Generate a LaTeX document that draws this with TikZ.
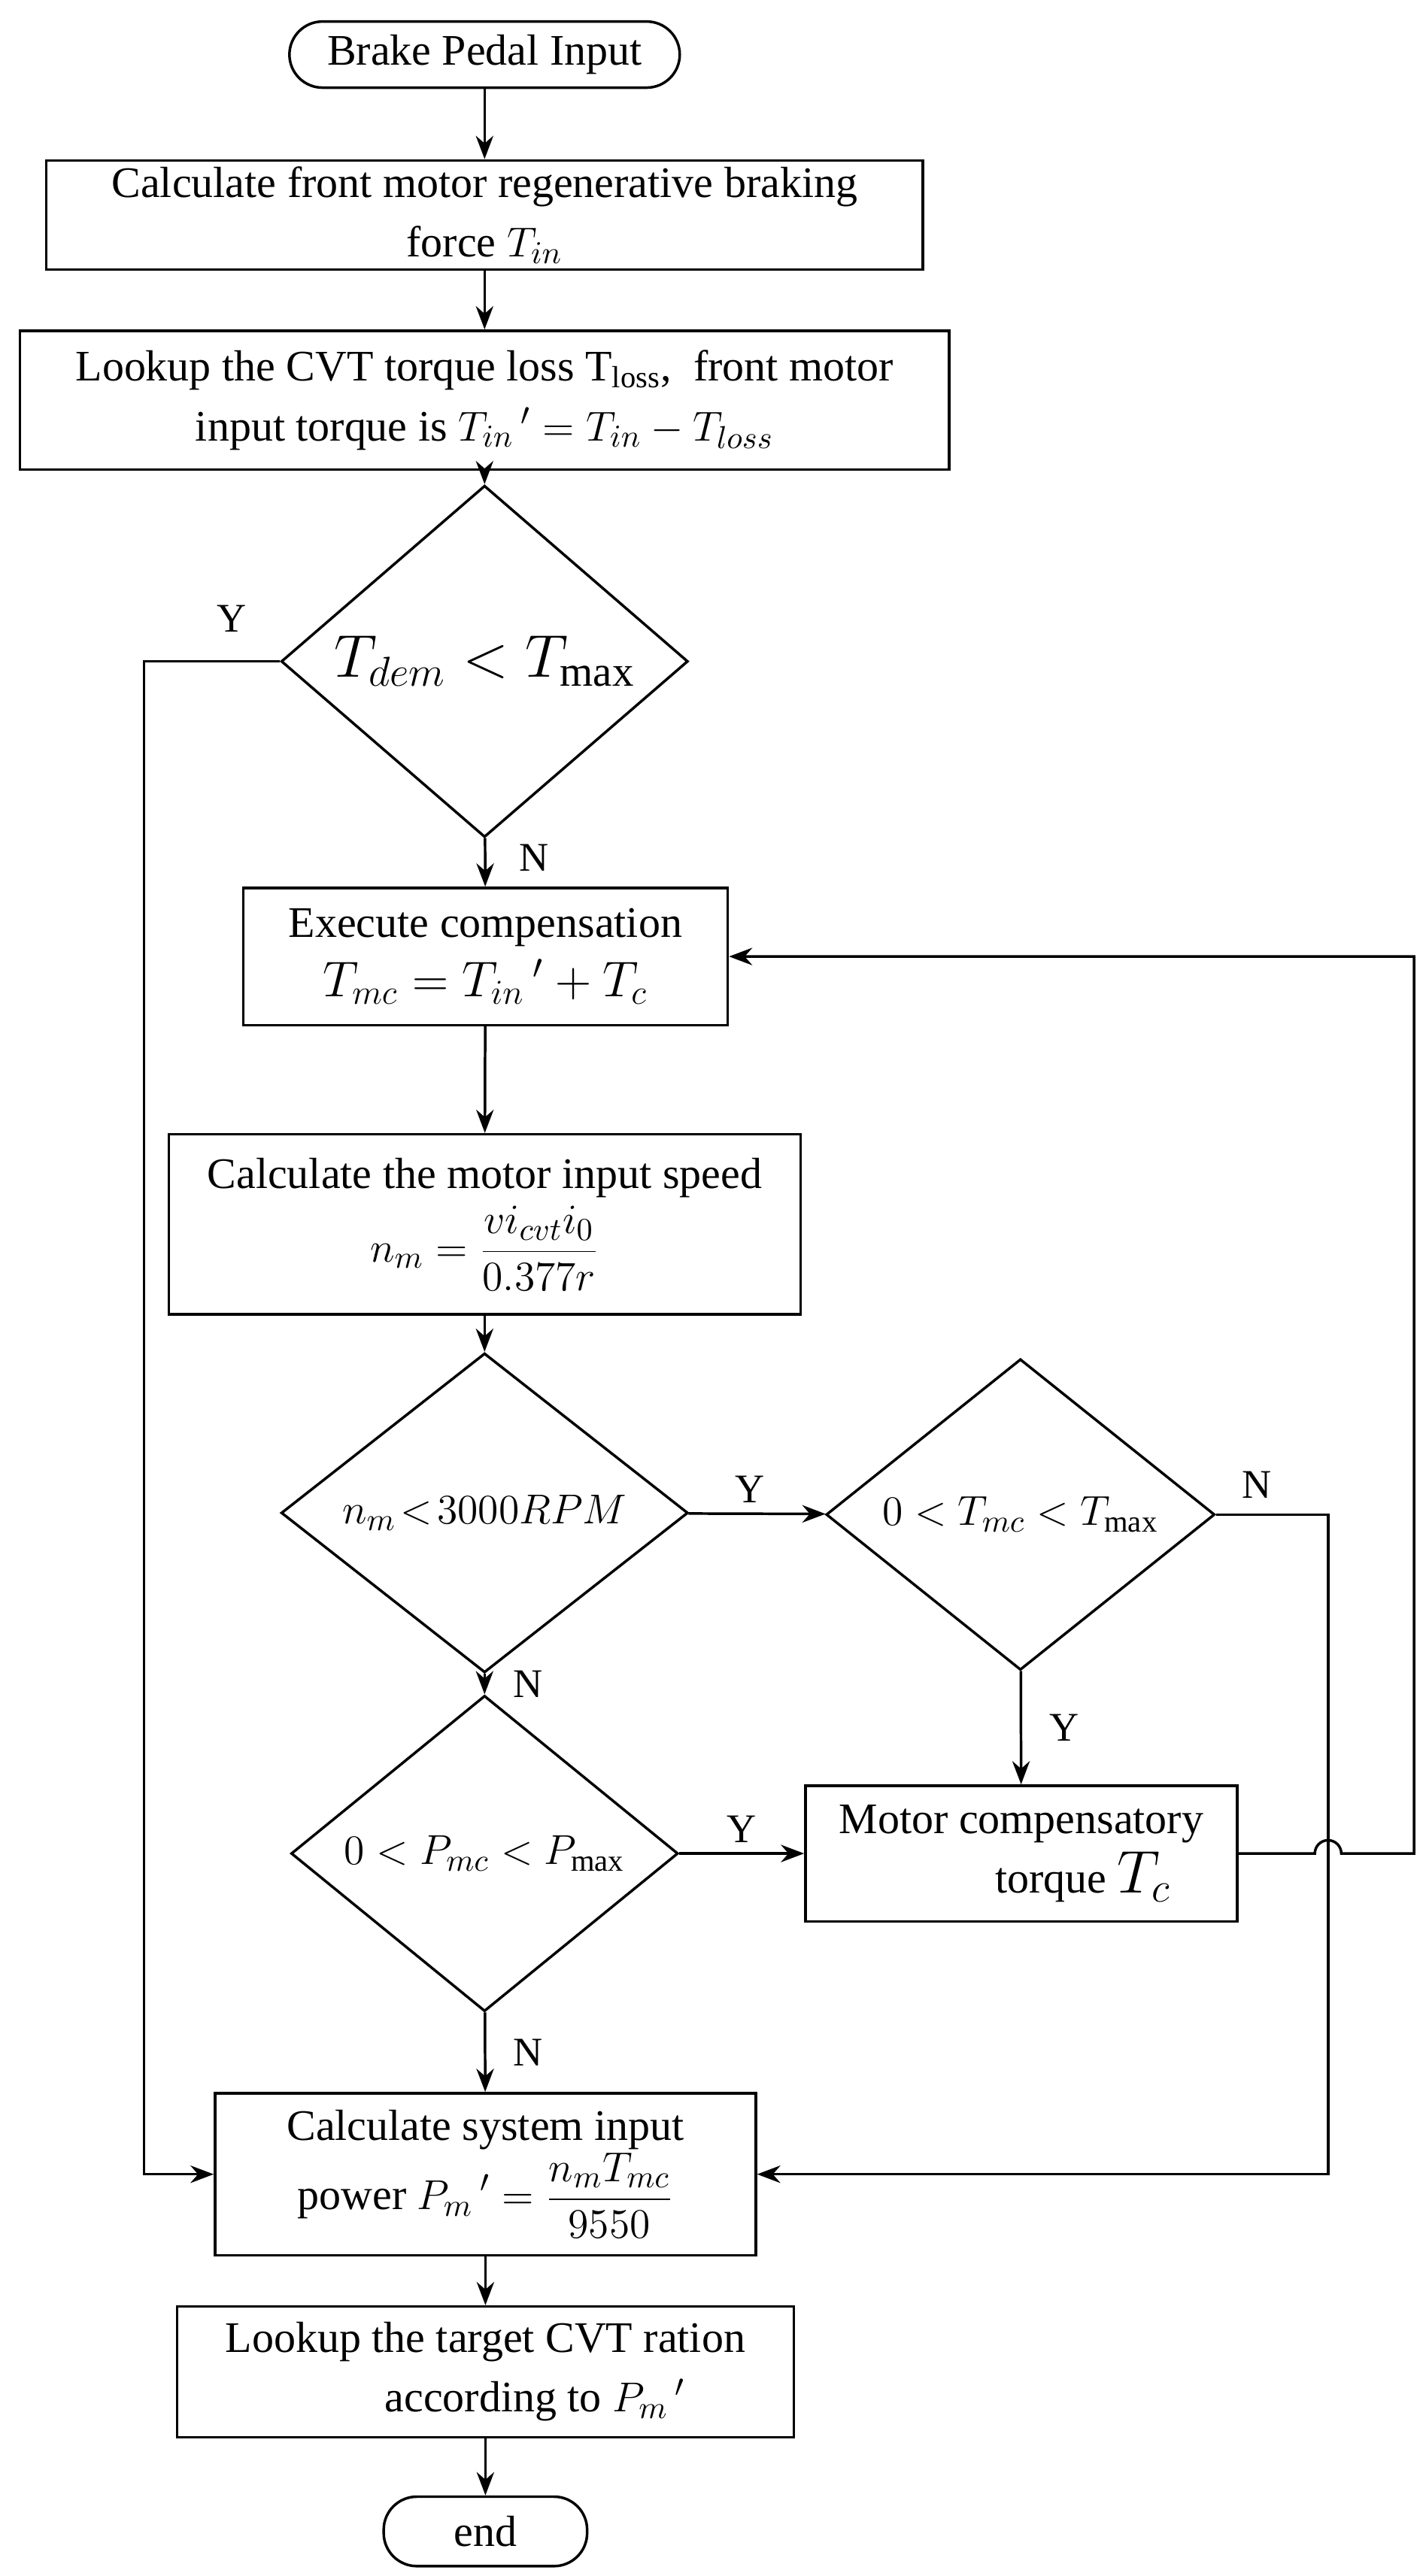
\documentclass[tikz,border=0pt]{standalone}
\usepackage{fontspec}
\setmainfont{Liberation Serif}
\usetikzlibrary{shapes.geometric,arrows.meta}
\begin{document}
\begin{tikzpicture}[
  line width=0.9pt,
  every node/.style={font=\fontsize{15}{20.5}\selectfont},
  box/.style={draw,rectangle,align=center,inner sep=2pt},
  dia/.style={draw,diamond,inner sep=0pt},
  term/.style={draw,rounded corners=0.4cm,align=center},
  arr/.style={-{Stealth[length=8pt,width=6pt]}},
  lab/.style={font=\fontsize{14}{16}\selectfont}
]
\useasboundingbox (0,0) rectangle (17.24,-31.16);
\node[term,minimum width=4.72cm,minimum height=0.8cm] (start) at (5.86,-0.66) {Brake Pedal Input};
\node[box,minimum width=10.6cm,minimum height=1.32cm] (b1) at (5.86,-2.6) {Calculate front motor regenerative braking\\force $T_{in}$};
\node[box,minimum width=11.24cm,minimum height=1.68cm] (b2) at (5.86,-4.84) {Lookup the CVT torque loss T\textsubscript{loss},\enspace front motor\\input torque is $T_{in}\,'=T_{in}-T_{loss}$};
\node[dia,minimum width=4.92cm,minimum height=2.8cm] (d1) at (5.86,-8.0) {\fontsize{21}{24}\selectfont $T_{dem}<T_{\max}$};
\node[box,minimum width=5.86cm,minimum height=1.66cm] (b3) at (5.87,-11.57) {Execute compensation\\{\fontsize{18}{22}\selectfont $T_{mc}=T_{in}\,'+T_c$}};
\node[box,minimum width=7.64cm,minimum height=2.18cm] (b4) at (5.86,-14.81) {Calculate the motor input speed\\[2pt]$\displaystyle n_m=\frac{v i_{cvt} i_0}{0.377r}$};
\node[dia,minimum width=4.92cm,minimum height=2.84cm] (d2) at (5.86,-18.3) {$n_m\!<\!3000RPM$};
\node[dia,minimum width=4.7cm,minimum height=2.84cm] (d3) at (12.34,-18.32) {$0<T_{mc}<T_{\max}$};
\node[dia,minimum width=4.68cm,minimum height=2.84cm] (d4) at (5.86,-22.42) {$0<P_{mc}<P_{\max}$};
\node[box,minimum width=5.22cm,minimum height=1.64cm] (mc) at (12.35,-22.42) {Motor compensatory\\\hspace*{1.5cm}torque {\fontsize{20}{22}\selectfont $T_c$}};
\node[box,minimum width=6.54cm,minimum height=1.96cm] (b5) at (5.87,-26.3) {Calculate system input\\power $\displaystyle P_m\,'=\frac{n_mT_{mc}}{9550}$};
\node[box,minimum width=7.46cm,minimum height=1.58cm] (b6) at (5.87,-28.69) {Lookup the target CVT ration\\\hspace*{1.2cm}according to $P_m\,'$};
\node[term,minimum width=2.46cm,minimum height=0.84cm] (end) at (5.87,-30.62) {end};

\draw[arr] (start) -- (b1);
\draw[arr] (b1) -- (b2);
\draw[arr] (b2) -- (d1);
\draw[arr] (d1) -- node[lab,right,pos=0.4,xshift=8pt]{N} (b3);
\draw[arr] (b3) -- (b4);
\draw[arr] (b4) -- (d2);
\draw[arr] (d2) -- node[lab,above,pos=0.45]{Y} (d3);
\draw[arr] (d2) -- node[lab,right,pos=0.5,xshift=6pt]{N} (d4);
\draw[arr] (d3) -- node[lab,right,pos=0.5,xshift=6pt]{Y} (mc);
\draw[arr] (d4) -- node[lab,above,pos=0.5]{Y} (mc);
\draw[arr] (d4) -- node[lab,right,pos=0.5,xshift=6pt]{N} (b5);
\draw[arr] (b5) -- (b6);
\draw[arr] (b6) -- (end);

\coordinate (yl) at (1.74,-8.0);
\draw[arr] (d1.west) -- (yl) |- (b5.west);
\node[lab] (ylab) at (2.8,-7.48) {Y};

\coordinate (n3) at (16.06,-18.32);
\draw[arr] (d3.east) -- (n3) |- (b5.east);
\node[lab] (nlab) at (15.2,-17.96) {N};

\coordinate (fb) at (17.1,-22.42);
\draw[arr] (mc.east) -- (15.9,-22.42) arc (180:0:0.16) -- (fb) |- (b3.east);
\end{tikzpicture}
\end{document}
